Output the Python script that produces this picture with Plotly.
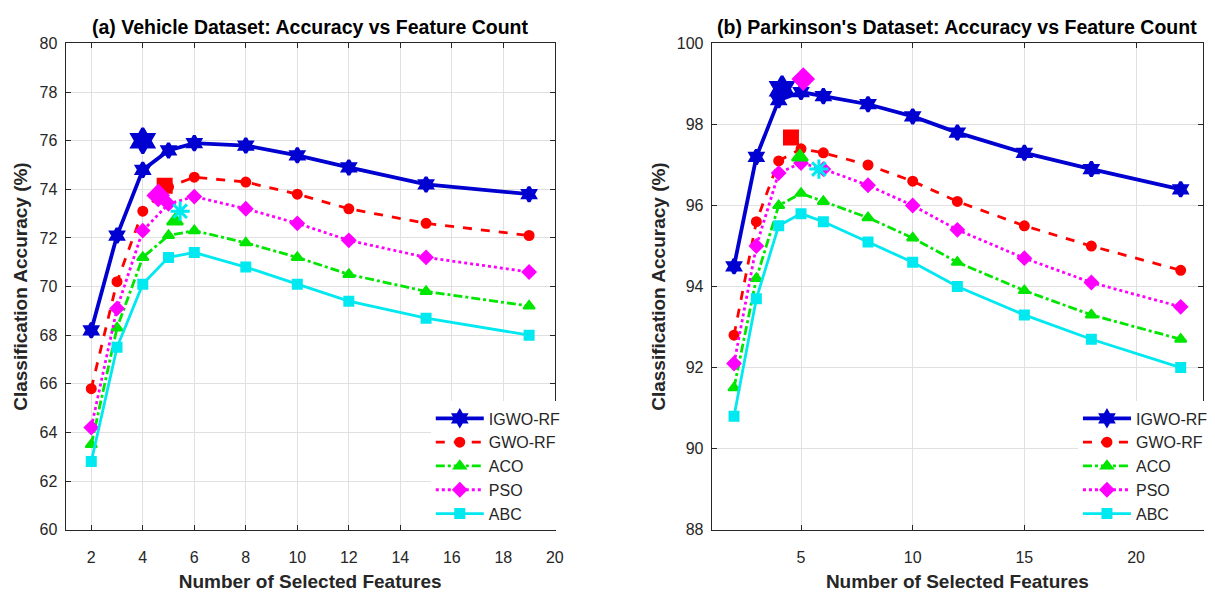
import plotly.graph_objects as go

methods = ["IGWO-RF", "GWO-RF", "ACO", "PSO", "ABC"]

# (a) Vehicle dataset
veh_x = [2, 3, 4, 5, 6, 8, 10, 12, 15, 19]
veh_igwo = [68.2, 72.1, 74.8, 75.6, 75.9, 75.8, 75.4, 74.9, 74.2, 73.8]
veh_gwo = [65.8, 70.2, 73.1, 74.1, 74.5, 74.3, 73.8, 73.2, 72.6, 72.1]
veh_aco = [63.5, 68.3, 71.2, 72.1, 72.3, 71.8, 71.2, 70.5, 69.8, 69.2]
veh_pso = [64.2, 69.1, 72.3, 73.4, 73.7, 73.2, 72.6, 71.9, 71.2, 70.6]
veh_abc = [62.8, 67.5, 70.1, 71.2, 71.4, 70.8, 70.1, 69.4, 68.7, 68.0]
veh_best_x = [4.0, 4.85, 5.25, 4.6, 5.45]
veh_best_y = [76.0, 74.15, 72.7, 73.75, 73.1]

# (b) Parkinson's dataset
par_x = [2, 3, 4, 5, 6, 8, 10, 12, 15, 18, 22]
par_igwo = [94.5, 97.2, 98.6, 98.8, 98.7, 98.5, 98.2, 97.8, 97.3, 96.9, 96.4]
par_gwo = [92.8, 95.6, 97.1, 97.4, 97.3, 97.0, 96.6, 96.1, 95.5, 95.0, 94.4]
par_aco = [91.5, 94.2, 96.0, 96.3, 96.1, 95.7, 95.2, 94.6, 93.9, 93.3, 92.7]
par_pso = [92.1, 95.0, 96.8, 97.05, 96.9, 96.5, 96.0, 95.4, 94.7, 94.1, 93.5]
par_abc = [90.8, 93.7, 95.5, 95.8, 95.6, 95.1, 94.6, 94.0, 93.3, 92.7, 92.0]
par_best_x = [4.15, 4.55, 4.95, 5.1, 5.8]
par_best_y = [98.88, 97.68, 97.2, 99.12, 96.9]

colors = ["#0000D0", "#FF0000", "#00E600", "#FF00FF", "#00E8F0"]
dashes = ["solid", "dash", "dashdot", "dot", "solid"]
widths = [3.8, 2.8, 2.8, 2.8, 2.8]
symbols = ["hexagram", "circle", "triangle-up", "diamond", "square"]
msizes = [11, 9, 10, 10, 9]
mline = [3, 2, 2, 2, 2]
best_symbols = ["hexagram", "square", "triangle-up", "diamond", "asterisk-open"]
best_sizes = [19, 14, 14, 16, 16]

fig = go.Figure()

datasets = [
    (veh_x, [veh_igwo, veh_gwo, veh_aco, veh_pso, veh_abc], veh_best_x, veh_best_y, "x", "y", "legend"),
    (par_x, [par_igwo, par_gwo, par_aco, par_pso, par_abc], par_best_x, par_best_y, "x2", "y2", "legend2"),
]

for xs, series, bx, by, xa, ya, lg in datasets:
    for i, name in enumerate(methods):
        fig.add_trace(go.Scatter(
            x=xs, y=series[i], name=name, mode="lines+markers",
            line=dict(color=colors[i], width=widths[i], dash=dashes[i]),
            marker=dict(symbol=symbols[i], size=msizes[i], color=colors[i],
                        line=dict(color=colors[i], width=mline[i])),
            xaxis=xa, yaxis=ya, legend=lg,
        ))
    for i, name in enumerate(methods):
        sym = best_symbols[i]
        mk = dict(symbol=sym, size=best_sizes[i], color=colors[i],
                  line=dict(color=colors[i], width=3 if ("open" in sym or i == 0) else 2))
        fig.add_trace(go.Scatter(
            x=[bx[i]], y=[by[i]], mode="markers", marker=mk,
            showlegend=False, xaxis=xa, yaxis=ya, hoverinfo="skip",
        ))

W, H = 1215, 595
font_family = "Liberation Sans, Arial, sans-serif"
tick_font = dict(family=font_family, size=16, color="#262626")
title_font = dict(family=font_family, size=19, color="#262626")

axis_common = dict(
    showline=True, linecolor="#262626", linewidth=1, mirror="ticks",
    ticks="inside", ticklen=5, tickcolor="#262626",
    showgrid=True, gridcolor="#E0E0E0", gridwidth=1, zeroline=False,
    tickfont=tick_font,
)

y0 = 1 - 537 / H
y1 = 1 - 36.5 / H

xtitle = dict(text="<b>Number of Selected Features</b>", font=title_font, standoff=9)
ytitle = dict(text="<b>Classification Accuracy (%)</b>", font=title_font, standoff=6)

legend_font = dict(family=font_family, size=16, color="#262626")

fig.update_layout(
    width=W, height=H,
    margin=dict(l=0, r=0, t=0, b=0),
    paper_bgcolor="white", plot_bgcolor="white",
    font=dict(family=font_family, color="#262626"),
    xaxis=dict(domain=[66 / W, 559 / W], range=[1, 20], tickvals=list(range(2, 21, 2)),
               anchor="y", title=xtitle, ticklabelstandoff=13, **axis_common),
    yaxis=dict(domain=[y0, y1], range=[60, 80], tickvals=list(range(60, 81, 2)), anchor="x",
               title=ytitle, ticklabelstandoff=4, **axis_common),
    xaxis2=dict(domain=[717 / W, 1212 / W], range=[1, 23], tickvals=[5, 10, 15, 20],
                anchor="y2", title=xtitle, ticklabelstandoff=13, **axis_common),
    yaxis2=dict(domain=[y0, y1], range=[88, 100], tickvals=list(range(88, 101, 2)), anchor="x2",
                title=ytitle, ticklabelstandoff=4, **axis_common),
    legend=dict(x=434 / W, y=1 - 405 / H, xanchor="left", yanchor="top",
                bgcolor="rgba(255,255,255,1)", borderwidth=0, itemwidth=48,
                font=legend_font, tracegroupgap=0),
    legend2=dict(x=1086 / W, y=1 - 405 / H, xanchor="left", yanchor="top",
                 bgcolor="rgba(255,255,255,1)", borderwidth=0, itemwidth=48,
                 font=legend_font, tracegroupgap=0),
    annotations=[
        dict(text="<b>(a) Vehicle Dataset: Accuracy vs Feature Count</b>", x=(66 + 559) / 2 / W, y=1 - 20 / H,
             xref="paper", yref="paper", showarrow=False, xanchor="center", yanchor="middle",
             font=dict(family=font_family, size=19.5, color="#000000")),
        dict(text="<b>(b) Parkinson's Dataset: Accuracy vs Feature Count</b>", x=(717 + 1212) / 2 / W, y=1 - 20 / H,
             xref="paper", yref="paper", showarrow=False, xanchor="center", yanchor="middle",
             font=dict(family=font_family, size=19.5, color="#000000")),
    ],
)

fig.write_html("out.html")
